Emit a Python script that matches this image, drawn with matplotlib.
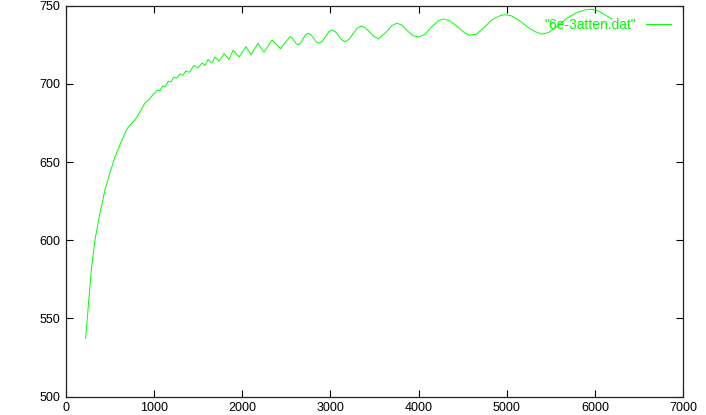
import matplotlib
matplotlib.use("Agg")
import matplotlib.pyplot as plt

# values
x_vals = [223, 256, 287, 329, 386, 442, 499, 556, 613, 669, 707, 783, 840, 896, 942, 984, 1010,
          1035, 1065, 1095, 1125, 1158, 1190, 1222, 1255, 1290, 1325, 1360, 1400,
          1452, 1498, 1543, 1577, 1611, 1656, 1690, 1736, 1793, 1849, 1895, 1963,
          2042, 2099, 2178, 2246, 2337, 2433,
          2541, 2564, 2587, 2609, 2632, 2660, 2688, 2717, 2745, 2776, 2808, 2839,
          2870, 2907, 2944, 2981, 3018, 3055, 3092, 3128, 3165, 3210, 3256, 3302,
          3347, 3396, 3446, 3495, 3545,
          3638, 3695, 3752, 3808, 3883, 3940, 3997, 4073, 4149, 4224, 4281, 4357,
          4451, 4527, 4583, 4659, 4734, 4830, 4924, 4981, 5057, 5150, 5245, 5321,
          5397, 5472, 5567, 5681, 5794, 5888, 5964, 6039, 6115, 6194]
y_vals = [537.2, 560.2, 581.2, 600.4, 617.6, 632.3, 643.2, 653.4, 661.1, 668.7, 672.5, 677.0,
          682.1, 687.9, 689.8, 693.0, 694.3,
          696.0, 695.6, 698.6, 698.3, 701.7, 701.2, 704.3, 703.6, 706.3, 705.5, 708.3, 707.4,
          711.8, 710.2, 713.4, 711.8, 715.6, 713.5, 717.2, 714.6, 719.4, 715.6, 721.5, 717.3,
          723.8, 718.7, 726.0, 720.2, 728.1, 722.5,
          730.2, 729.4, 727.6, 725.8, 725.0, 726.1, 728.7, 731.3, 732.4, 731.5, 729.2, 726.9,
          726.0, 727.2, 730.2, 733.3, 734.5, 733.4, 730.8, 728.1, 727.0, 728.5, 732.0, 735.5,
          737.0, 735.8, 733.0, 730.2, 729.0,
          733.4, 737.2, 738.8, 737.7, 733.4, 730.7, 730.0, 731.7, 736.6, 740.4, 741.5, 740.2,
          736.0, 732.4, 731.1, 731.9, 735.6, 740.9, 743.6, 744.3, 743.4, 740.2, 736.0, 733.4,
          731.8, 732.8, 736.6, 742.0, 745.5, 747.3, 747.7, 746.6, 744.1, 741.5]

x_ticks = [0, 1000, 2000, 3000, 4000, 5000, 6000, 7000]
y_ticks = [500, 550, 600, 650, 700, 750]

green = "#00ff00"

plt.rcParams["font.family"] = ["Liberation Sans", "DejaVu Sans"]

fig = plt.figure(figsize=(7.06, 4.15), dpi=100)
ax = fig.add_axes([0.0935, 0.0441, 0.874, 0.9422])

ax.plot(x_vals, y_vals, color=green, linewidth=0.7, label='"6e-3atten.dat"')

ax.set_xlim(0, 7000)
ax.set_ylim(500, 750)
ax.set_xticks(x_ticks)
ax.set_yticks(y_ticks)
ax.tick_params(direction="in", length=5, width=0.8, top=True, right=True,
               labelsize=9, pad=4, colors="black")
for s in ax.spines.values():
    s.set_linewidth(0.9)
    s.set_color("#222222")

leg = ax.legend(loc="upper right", frameon=False, markerfirst=False, handlelength=1.8,
                fontsize=10, labelcolor=green, bbox_to_anchor=(0.996, 0.993),
                borderaxespad=0.3, handletextpad=0.7)

fig.savefig("out.png", dpi=100)
